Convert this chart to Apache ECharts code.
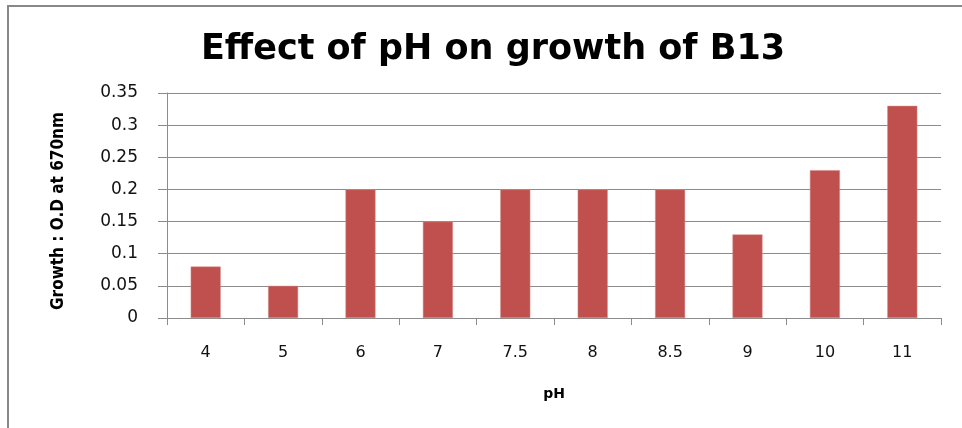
<!DOCTYPE html>
<html>
<head>
<meta charset="utf-8">
<script src="https://cdn.jsdelivr.net/npm/echarts@6/dist/echarts.min.js"></script>
<style>html,body{margin:0;padding:0;background:#fff;}#c{width:962px;height:428px;}</style>
</head>
<body>
<div id="c"></div>
<script>
var titleText = 'Effect of pH on growth of B13';
var categories = ['4', '5', '6', '7', '7.5', '8', '8.5', '9', '10', '11'];
var growth = [0.08, 0.05, 0.2, 0.15, 0.2, 0.2, 0.2, 0.13, 0.23, 0.33];
var yTicks = { min: 0, max: 0.35, interval: 0.05 };
var xName = 'pH';
var yName = 'Growth : O.D at 670nm';

var chart = echarts.init(document.getElementById('c'));
chart.setOption({
  animation: false,
  backgroundColor: '#fff',
  title: {
    text: titleText,
    left: 488,
    textAlign: 'center',
    top: 27,
    textStyle: { fontFamily: 'DejaVu Sans', fontWeight: 'bold', fontSize: 35, color: '#000' }
  },
  grid: { left: 167, right: 21, top: 93, bottom: 110, containLabel: false },
  xAxis: {
    type: 'category',
    data: categories,
    name: xName,
    nameLocation: 'middle',
    nameGap: 69,
    nameTextStyle: { fontFamily: 'DejaVu Sans', fontWeight: 'bold', fontSize: 14, color: '#000' },
    axisLine: { lineStyle: { color: '#8c8c8c', width: 1 } },
    axisTick: { show: true, length: 7, alignWithLabel: false, lineStyle: { color: '#8c8c8c' } },
    axisLabel: { margin: 27, fontFamily: 'DejaVu Sans', fontSize: 16, color: '#111' },
    splitLine: { show: false }
  },
  yAxis: {
    type: 'value',
    min: yTicks.min,
    max: yTicks.max,
    interval: yTicks.interval,
    axisLine: { show: true, lineStyle: { color: '#8c8c8c', width: 1 } },
    axisTick: { show: true, length: 9, lineStyle: { color: '#8c8c8c' } },
    axisLabel: { margin: 29, fontFamily: 'DejaVu Sans', fontSize: 17, color: '#111' },
    splitLine: { show: true, lineStyle: { color: '#8c8c8c', width: 1 } }
  },
  series: [{
    type: 'bar',
    data: growth,
    barWidth: 30,
    itemStyle: { color: '#C0504D', borderColor: '#D48A88', borderWidth: 0.5 }
  }],
  graphic: [
    {
      type: 'rect',
      shape: { x: 8, y: 6, width: 1000, height: 500 },
      style: { fill: null, stroke: '#888', lineWidth: 2 },
      silent: true
    },
    {
      type: 'text',
      x: 59,
      y: 211,
      rotation: Math.PI / 2,
      style: {
        text: yName,
        fontFamily: '"DejaVu Sans Condensed", "Liberation Sans", sans-serif',
        fontWeight: 'bold',
        fontSize: 17,
        fill: '#000',
        align: 'center',
        verticalAlign: 'middle'
      }
    }
  ]
});
</script>
</body>
</html>
